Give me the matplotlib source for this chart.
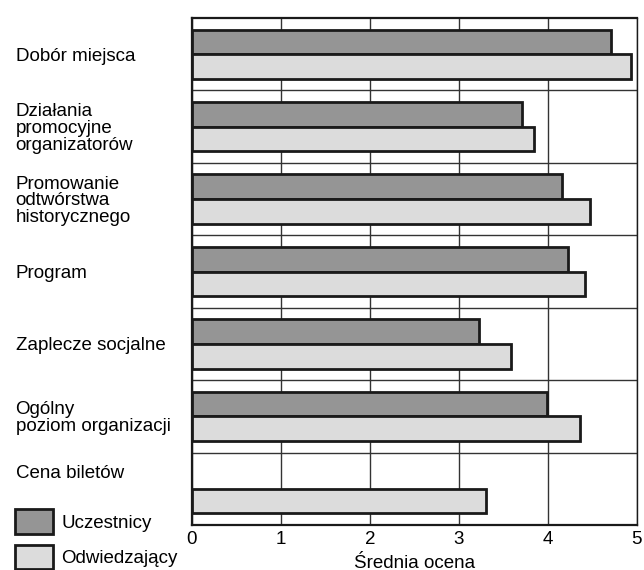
import numpy as np
import matplotlib.pyplot as plt
from matplotlib.patches import Patch

plt.rcParams['font.family'] = ['Liberation Sans', 'DejaVu Sans']

# data
kategorie = ["Dobór miejsca",
             "Działania\npromocyjne\norganizatorów",
             "Promowanie\nodtwórstwa\nhistorycznego",
             "Program",
             "Zaplecze socjalne",
             "Ogólny\npoziom organizacji",
             "Cena biletów\n\n"]
uczestnicy = [4.71, 3.71, 4.16, 4.22, 3.23, 3.99, np.nan]
odwiedzajacy = [4.93, 3.84, 4.47, 4.42, 3.58, 4.36, 3.30]

ciemny = '#959595'
jasny = '#dcdcdc'

fig = plt.figure(figsize=(6.44, 5.70), dpi=100)
ax = fig.add_axes([0.2981, 0.0789, 0.6909, 0.8895])

y = np.arange(len(kategorie))
h = 0.34
ax.barh(y - 0.17, uczestnicy, height=h, color=ciemny, edgecolor='#1a1a1a', linewidth=2, zorder=3)
ax.barh(y + 0.17, odwiedzajacy, height=h, color=jasny, edgecolor='#1a1a1a', linewidth=2, zorder=3)

ax.set_xlim(0, 5)
ax.set_ylim(len(kategorie) - 0.5, -0.5)
ax.set_xticks([0, 1, 2, 3, 4, 5])
ax.set_yticks(y)
ax.set_yticklabels(kategorie, ha='left', fontsize=13.5, linespacing=0.98)
ax.set_yticks(np.arange(0.5, len(kategorie) - 0.5, 1), minor=True)
ax.tick_params(axis='y', which='both', length=0, pad=127)
ax.tick_params(axis='x', length=0, labelsize=13.5, pad=4)
ax.grid(axis='x', color='#333333', linewidth=1, zorder=0)
ax.grid(axis='y', which='minor', color='#333333', linewidth=1, zorder=0)
for s in ax.spines.values():
    s.set_linewidth(1.6)
    s.set_color('#1a1a1a')
ax.spines['right'].set_linewidth(1)
ax.set_xlabel("Średnia ocena", fontsize=13.5, labelpad=5)

uchwyty = [Patch(facecolor=ciemny, edgecolor='#1a1a1a', linewidth=2),
           Patch(facecolor=jasny, edgecolor='#1a1a1a', linewidth=2)]
fig.legend(uchwyty, ["Uczestnicy", "Odwiedzający"], loc='lower left',
           bbox_to_anchor=(0.0233, 0.002), borderaxespad=0, borderpad=0,
           frameon=False, fontsize=13.5,
           handlelength=2.0, handleheight=1.6, handletextpad=0.48, labelspacing=0.6)

fig.savefig('out.png', dpi=100)
